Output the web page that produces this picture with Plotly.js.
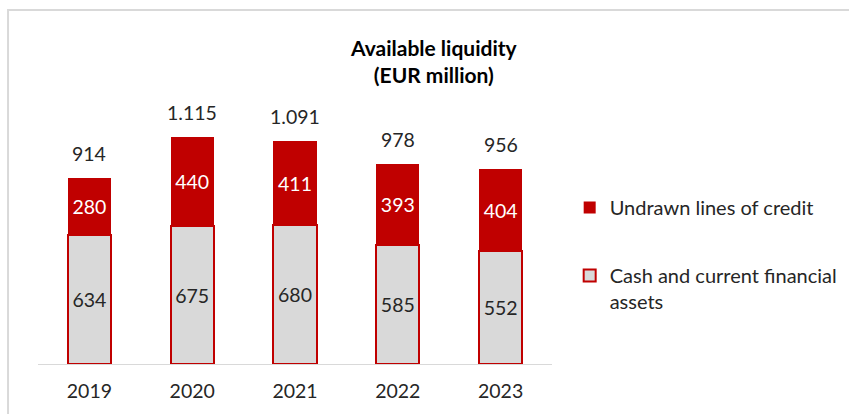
<!DOCTYPE html>
<html>
<head>
<meta charset="utf-8">
<script src="https://cdn.plot.ly/plotly-3.0.1.min.js"></script>
<style>html,body{margin:0;padding:0;background:#fff;}#chart{width:849px;height:414px;}</style>
</head>
<body>
<div id="chart"></div>
<script>
const years = ["2019", "2020", "2021", "2022", "2023"];
const cashAssets = [634, 675, 680, 585, 552];
const undrawnCredit = [280, 440, 411, 393, 404];
const totalLabels = ["914", "1.115", "1.091", "978", "956"];
const totals = cashAssets.map((v, i) => v + undrawnCredit[i]);

const RED = "#C00000";
const GREY = "#D9D9D9";
const TXT = "#262626";
const FONT = "Lato, 'Open Sans', sans-serif";
const LBL = 19.5;

const traceCash = {
  type: "bar", x: years, y: cashAssets, name: "Cash and current financial<br>assets",
  marker: {color: GREY, line: {color: RED, width: 2}},
  text: cashAssets.map(String), textposition: "inside", insidetextanchor: "middle",
  constraintext: "none",
  textfont: {family: FONT, size: LBL, color: TXT},
  legend: "legend2", hoverinfo: "skip"
};
const traceCredit = {
  type: "bar", x: years, y: undrawnCredit, name: "Undrawn lines of credit",
  marker: {color: RED, line: {color: RED, width: 0}},
  text: undrawnCredit.map(String), textposition: "inside", insidetextanchor: "middle",
  constraintext: "none",
  textfont: {family: FONT, size: LBL, color: "#FFFFFF"},
  legend: "legend", hoverinfo: "skip"
};

const totalAnnotations = years.map((yr, i) => ({
  x: i, y: totals[i], xref: "x", yref: "y", text: totalLabels[i],
  showarrow: false, yanchor: "bottom", yshift: 11,
  font: {family: FONT, size: LBL, color: TXT}
}));

const layout = {
  width: 849, height: 414,
  margin: {l: 38, r: 297, t: 20, b: 50, pad: 0, autoexpand: false},
  paper_bgcolor: "#fff", plot_bgcolor: "#fff",
  barmode: "stack", bargap: 0.578,
  font: {family: FONT, color: TXT},
  xaxis: {
    type: "category", range: [-0.5, 4.5], autorange: false,
    showline: true, linecolor: "#D9D9D9", linewidth: 1,
    ticks: "", ticklabelstandoff: 10,
    tickfont: {family: FONT, size: LBL, color: TXT}, showgrid: false,
    fixedrange: true
  },
  yaxis: {range: [0, 1686], autorange: false, visible: false, showgrid: false, zeroline: false, fixedrange: true},
  showlegend: true,
  legend: {xref: "container", yref: "container", x: 0.671, y: 0.546, xanchor: "left", yanchor: "top", valign: "top",
    font: {family: FONT, size: 20, color: TXT}, bgcolor: "rgba(0,0,0,0)"},
  legend2: {xref: "container", yref: "container", x: 0.671, y: 0.3816, xanchor: "left", yanchor: "top", valign: "top",
    font: {family: FONT, size: 20, color: TXT}, bgcolor: "rgba(0,0,0,0)"},
  annotations: totalAnnotations.concat([{
    xref: "paper", yref: "paper", x: 0.770, y: 0.882, xanchor: "center", yanchor: "middle",
    text: "<b>Available liquidity</b><br><b>(EUR million)</b>", showarrow: false,
    font: {family: FONT, size: 21, color: "#000"}
  }]),
  shapes: [{
    type: "rect", xref: "paper", yref: "paper", x0: -0.0583, x1: 1.6, y0: -0.3, y1: 1.029,
    line: {color: "#D9D9D9", width: 2}, fillcolor: "rgba(0,0,0,0)", layer: "below"
  }]
};

Plotly.newPlot("chart", [traceCash, traceCredit], layout, {displayModeBar: false, staticPlot: true});
</script>
</body>
</html>
